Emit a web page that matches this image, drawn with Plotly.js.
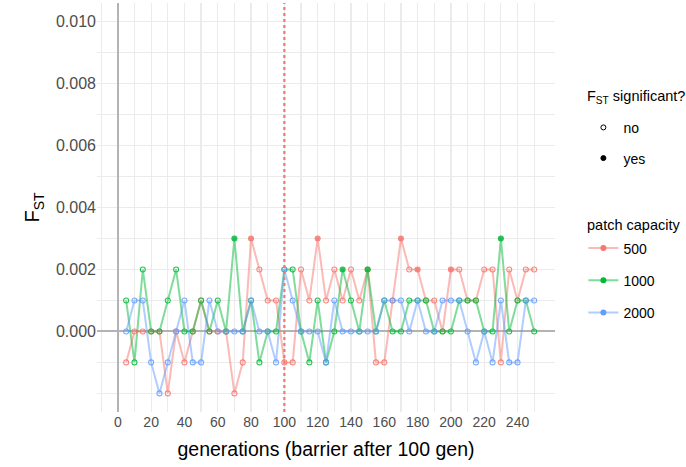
<!DOCTYPE html>
<html><head><meta charset="utf-8">
<script src="https://cdn.plot.ly/plotly-3.0.1.min.js"></script>
<style>html,body{margin:0;padding:0;background:#fff}#chart{width:686px;height:467px}</style>
</head><body><div id="chart"></div>
<script>
const generations = [5,10,15,20,25,30,35,40,45,50,55,60,65,70,75,80,85,90,95,100,105,110,115,120,125,130,135,140,145,150,155,160,165,170,175,180,185,190,195,200,205,210,215,220,225,230,235,240,245,250];
const fst500  = [-0.001,0,0,0,0,-0.002,0,-0.001,0,0.001,0,0,0,-0.002,-0.001,0.003,0.002,0.001,0.001,-0.001,-0.001,0.002,0.001,0.003,0.001,0.002,0.001,0.002,0.001,0.002,-0.001,-0.001,0.001,0.003,0.002,0.002,0.001,0.001,0,0.002,0.002,0.001,0.001,0.002,0.002,-0.001,0.002,0.001,0.002,0.002];
const sig500  = [0,0,0,0,0,0,0,0,0,0,0,0,0,0,0,1,0,0,0,0,0,0,0,1,0,0,0,0,0,0,0,0,0,1,0,1,0,0,0,1,0,0,0,0,0,0,0,0,0,0];
const fst1000 = [0.001,-0.001,0.002,0,0,0.001,0.002,0,0,0.001,0,0.001,0,0.003,0,0.001,-0.001,0,0,0.002,0.002,0,-0.001,0.001,-0.001,0,0.002,0.001,0,0.002,0,0.001,0,0,0.001,0.001,0.001,0,0,0,0.001,0.001,0.001,0,0,0.003,0,0.001,0.001,0];
const sig1000 = [0,0,0,0,0,0,0,0,0,0,0,0,0,1,0,0,0,0,0,0,0,0,0,0,0,0,1,0,0,1,0,0,0,0,0,0,0,0,0,0,0,0,0,0,0,1,0,0,0,0];
const fst2000 = [0,0.001,0.001,-0.001,-0.002,-0.001,0,0.001,-0.001,-0.001,0.001,0,0,0,0,0.001,0,0,-0.001,0.002,0.001,0,0,0,-0.001,0.001,0,0,0,0,0,0.001,0.001,0.001,0,0.001,0,0,0.001,0.001,0.001,0,-0.001,0,-0.001,0.001,-0.001,-0.001,0.001,0.001];
const sig2000 = [0,0,0,0,0,0,0,0,0,0,0,0,0,0,0,0,0,0,0,0,0,0,0,0,0,0,0,0,0,0,0,0,0,0,0,0,0,0,0,0,0,0,0,0,0,0,0,0,0,0];

const capacities = ['500','1000','2000'];
const sigLabels = ['no','yes'];
const sigTitle = 'F<sub>ST</sub> significant?';
const capTitle = 'patch capacity';
const xTicks = [0,20,40,60,80,100,120,140,160,180,200,220,240];
const xMinor = [-10,10,30,50,70,90,110,130,150,170,190,210,230,250];
const yTicks = [0,0.002,0.004,0.006,0.008,0.010];
const yTickText = ['0.000','0.002','0.004','0.006','0.008','0.010'];
const yMinor = [-0.002,-0.001,0.001,0.003,0.005,0.007,0.009];
const barrierGen = 100;

const colors = ['#F8766D','#00BA38','#619CFF'];
const lineColors = ['rgba(248,118,109,0.5)','rgba(0,186,56,0.5)','rgba(97,156,255,0.5)'];
const series = [fst500, fst1000, fst2000];
const sigs = [sig500, sig1000, sig2000];

const FONT = 'Liberation Sans, Arial, Helvetica, sans-serif';
const traces = [];
series.forEach((vals, i) => {
  traces.push({x: generations, y: vals, mode: 'lines', line: {color: lineColors[i], width: 2},
    showlegend: false, hoverinfo: 'skip'});
});
series.forEach((vals, i) => {
  traces.push({x: generations, y: vals, mode: 'markers',
    marker: {symbol: sigs[i].map(s => s ? 'circle' : 'circle-open'), size: 5, color: colors[i],
      opacity: 0.85, line: {width: 1.1, color: colors[i]}},
    showlegend: false});
});
sigLabels.forEach((lab, j) => {
  traces.push({x: [null], y: [null], mode: 'markers', name: lab, legend: 'legend', legendgroup: 's' + j,
    marker: {symbol: j ? 'circle' : 'circle-open', size: 5, color: '#000', line: {width: 1, color: '#000'}}});
});
capacities.forEach((lab, i) => {
  traces.push({x: [null], y: [null], mode: 'lines+markers', name: lab, legend: 'legend2', legendgroup: 'c' + i,
    line: {color: lineColors[i], width: 2}, marker: {symbol: 'circle', size: 6, color: colors[i]}});
});

const layout = {
  width: 686, height: 467,
  margin: {l: 97, r: 131, t: 3, b: 55},
  paper_bgcolor: '#fff', plot_bgcolor: '#fff',
  font: {family: FONT, color: '#000'},
  xaxis: {
    range: [-12.5, 262.5], tickmode: 'array', tickvals: xTicks, ticks: '',
    showgrid: true, gridcolor: '#ebebeb', gridwidth: 1.2,
    minor: {tickvals: xMinor, showgrid: true, gridcolor: '#ebebeb', gridwidth: 1.2},
    zeroline: true, zerolinecolor: '#b3b3b3', zerolinewidth: 2,
    showline: false, tickfont: {size: 14, color: '#4d4d4d', family: FONT},
    title: {text: 'generations (barrier after 100 gen)', font: {size: 19.5, color: '#000', family: FONT}, standoff: 13}
  },
  yaxis: {
    range: [-0.0026, 0.0106], tickmode: 'array', tickvals: yTicks, ticktext: yTickText, ticks: '',
    showgrid: true, gridcolor: '#ebebeb', gridwidth: 1.2,
    minor: {tickvals: yMinor, showgrid: true, gridcolor: '#ebebeb', gridwidth: 1.2},
    zeroline: true, zerolinecolor: '#b3b3b3', zerolinewidth: 2,
    showline: false, tickfont: {size: 16, color: '#4d4d4d', family: FONT},
    title: {text: 'F<sub>ST</sub>', font: {size: 20, color: '#000', family: FONT}, standoff: 10}
  },
  shapes: [{type: 'line', xref: 'x', yref: 'paper', x0: barrierGen, x1: barrierGen, y0: 0, y1: 1,
    line: {color: '#F8766D', width: 2.2, dash: 'dot'}, layer: 'above'}],
  annotations: [
    {text: sigTitle, xref: 'paper', yref: 'paper', x: 1.0655, y: 0.770, xanchor: 'left', yanchor: 'middle',
      showarrow: false, font: {size: 14.5, family: FONT, color: '#000'}},
    {text: capTitle, xref: 'paper', yref: 'paper', x: 1.0655, y: 0.457, xanchor: 'left', yanchor: 'middle',
      showarrow: false, font: {size: 14.5, family: FONT, color: '#000'}}
  ],
  legend: {
    x: 1.062, y: 0.734, xanchor: 'left', yanchor: 'top', bgcolor: 'rgba(0,0,0,0)',
    font: {size: 14, family: FONT}, traceorder: 'grouped', tracegroupgap: 9.5, itemwidth: 30
  },
  legend2: {
    x: 1.062, y: 0.439, xanchor: 'left', yanchor: 'top', bgcolor: 'rgba(0,0,0,0)',
    font: {size: 14, family: FONT}, traceorder: 'grouped', tracegroupgap: 11, itemwidth: 30
  },
  showlegend: true
};
Plotly.newPlot('chart', traces, layout, {displayModeBar: false, staticPlot: true});
</script></body></html>
